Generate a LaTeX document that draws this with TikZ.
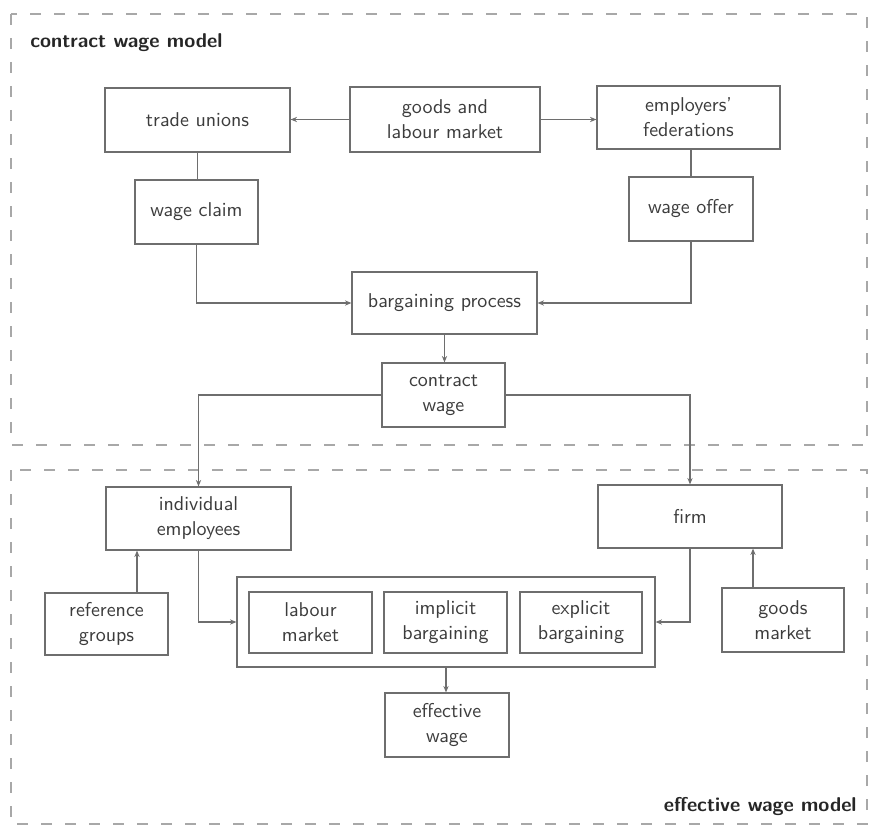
\documentclass[tikz,border=0pt]{standalone}
\usetikzlibrary{arrows.meta,calc}
\definecolor{boxline}{HTML}{6E6E6E}
\definecolor{txt}{HTML}{3C3C3C}
\definecolor{dashcol}{HTML}{A8A8A8}
\tikzset{
  box/.style={draw=boxline, line width=0.6pt, inner sep=1pt, align=center,
    text=txt, font=\sffamily\fontsize{10}{12.5}\selectfont},
  conn/.style={draw=boxline, line width=0.6pt},
  arr/.style={conn, -{Stealth[length=3.2pt,width=2.6pt]}},
  region/.style={draw=dashcol, line width=0.6pt, dash pattern=on 5.5pt off 6.5pt},
  title/.style={font=\sffamily\bfseries\fontsize{10}{12}\selectfont, text=black!85, inner sep=0pt}
}
\begin{document}
\begin{tikzpicture}[x=0.5pt,y=-0.5pt]
\useasboundingbox (0,0) rectangle (877,829);
% regions
\draw[region] (11,14) rectangle (867,445);
\draw[region] (11,470) rectangle (867,824);
\node[title, anchor=west] (t1) at (30,43) {contract wage model};
\node[title, anchor=east] (t2) at (857,806) {effective wage model};
% upper nodes
\node[box, minimum width=92.5pt, minimum height=32pt] (tu) at (197.5,120) {trade unions};
\node[box, minimum width=95pt, minimum height=32.5pt] (glm) at (445,119.5) {goods and\\labour market};
\node[box, minimum width=91.5pt, minimum height=31.5pt] (ef) at (688.5,117.5) {employers'\\federations};
\node[box, minimum width=61.5pt, minimum height=32pt] (wc) at (196.5,212) {wage claim};
\node[box, minimum width=62pt, minimum height=32pt] (wo) at (691,209) {wage offer};
\node[box, minimum width=92.5pt, minimum height=31pt] (bp) at (444.5,303) {bargaining process};
\node[box, minimum width=61.5pt, minimum height=32pt] (cw) at (443.5,395) {contract\\wage};
% lower nodes
\node[box, minimum width=92.5pt, minimum height=31.5pt] (ie) at (198.5,518.5) {individual\\employees};
\node[box, minimum width=92pt, minimum height=31.5pt] (firm) at (690,516.5) {firm};
\node[box, minimum width=61.5pt, minimum height=31pt] (rg) at (106.5,624) {reference\\groups};
\node[box, minimum width=61pt, minimum height=32pt] (gm) at (783,620) {goods\\market};
\node[box, minimum width=209pt, minimum height=45pt] (cont) at (446,622) {};
\node[box, minimum width=61.5pt, minimum height=30.5pt] (lm) at (310.5,622.5) {labour\\market};
\node[box, minimum width=61.5pt, minimum height=30.5pt] (ib) at (445.5,622.5) {implicit\\bargaining};
\node[box, minimum width=61pt, minimum height=30.5pt] (eb) at (581,622.5) {explicit\\bargaining};
\node[box, minimum width=62pt, minimum height=32pt] (ew) at (447,725) {effective\\wage};
% connectors
\draw[arr] (glm.west) -- (glm.west -| tu.east);
\draw[arr] (glm.east) -- (glm.east -| ef.west);
\draw[conn] (tu.south) -- (tu.south |- wc.north);
\draw[conn] (ef.south -| wo.north) -- (wo.north);
\draw[arr] (wc.south) |- (bp.west);
\draw[arr] (wo.south) |- (bp.east);
\draw[arr] (bp.south) -- (bp.south |- cw.north);
\draw[arr] (cw.west) -| (ie.north);
\draw[arr] (cw.east) -| (firm.north);
\draw[arr] (ie.south) |- (cont.west);
\draw[arr] (firm.south) |- (cont.east);
\coordinate (rgtop) at ($(rg.north)+(30.5,0)$);
\coordinate (gmtop) at ($(gm.north)+(-30,0)$);
\draw[arr] (rgtop) -- (rgtop |- ie.south);
\draw[arr] (gmtop) -- (gmtop |- firm.south);
\draw[arr] (cont.south) -- (cont.south |- ew.north);
\end{tikzpicture}
\end{document}
